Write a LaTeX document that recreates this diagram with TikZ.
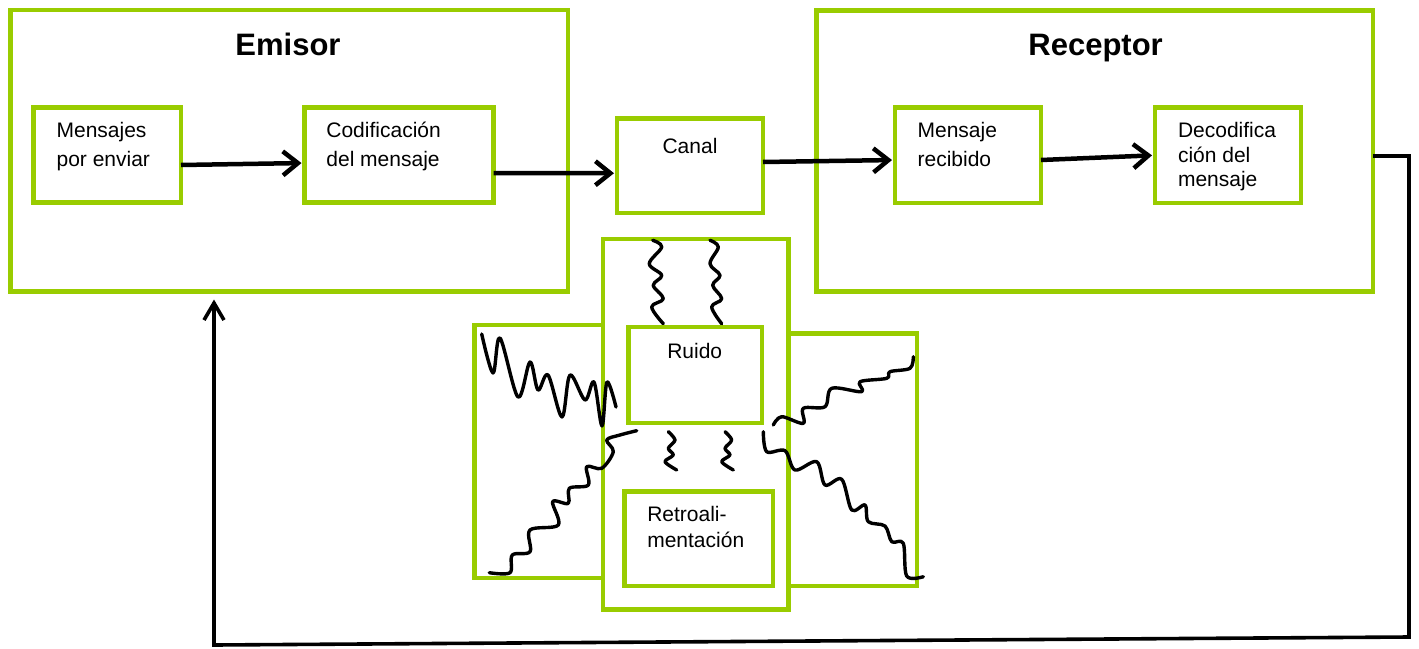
\documentclass[tikz,border=0pt]{standalone}
\usepackage{fontspec}
\setmainfont{Liberation Sans}
\usetikzlibrary{arrows.meta}
\definecolor{lgreen}{RGB}{153,204,0}
\begin{document}
\begin{tikzpicture}[x=1pt,y=-1pt,
  box/.style={draw=lgreen, line width=4.8pt, fill=white, inner sep=0pt, outer sep=0pt, line join=miter},
  sz/.style n args={2}{minimum width=#1pt, minimum height=#2pt},
  txt/.style={inner sep=0pt, outer sep=0pt, align=left, font=\fontsize{21}{29}\selectfont},
  ttl/.style={inner sep=0pt, outer sep=0pt, font=\fontsize{31}{37}\selectfont\bfseries},
  arr/.style={line width=4.5pt, -{Straight Barb[length=15pt,width=24pt]}, shorten >=3pt},
  fb/.style={line width=3.6pt, -{Straight Barb[length=17pt,width=20pt]}},
  sq/.style={line width=3.4pt, line cap=round, line join=round}]
\useasboundingbox (0,0) rectangle (1419,648);
% large boxes
\node[box, sz={557.5}{281.5}] (emi) at (289.25,150.75) {};
\node[box, sz={556.5}{281}] (rec) at (1094.75,151) {};
% inner boxes
\node[box, sz={147.5}{95}] (men) at (107.25,155) {};
\node[box, sz={189}{95}] (cod) at (399,155) {};
\node[box, sz={146}{94.5}] (can) at (690,165.75) {};
\node[box, sz={146}{95.5}] (mre) at (968,155.25) {};
\node[box, sz={146}{95.5}] (dec) at (1228,155.25) {};
% middle group
\node[box, sz={128.3}{253}] (lft) at (538.85,451.5) {};
\node[box, sz={128.3}{252.7}] (rgt) at (852.85,459.65) {};
\node[box, sz={185.7}{370.7}] (mid) at (695.85,424.35) {};
\node[box, sz={133.3}{96}] (rui) at (695.35,375) {};
\node[box, sz={148.3}{94.7}] (ret) at (698.85,538.65) {};
% texts (multi-line nodes: base = last line)
\node[ttl, anchor=base] (temi) at (288,55) {Emisor};
\node[ttl, anchor=base] (trec) at (1095.6,55) {Receptor};
\node[txt, anchor=base west] (tmen) at (56.6,166.7) {Mensajes\\por enviar};
\node[txt, anchor=base west] (tcod) at (326.4,166.7) {Codificación\\del mensaje};
\node[txt, anchor=base] (tcan) at (690,153.3) {Canal};
\node[txt, anchor=base west] (tmre) at (917.6,166.7) {Mensaje\\recibido};
\node[txt, anchor=base west, font=\fontsize{21}{24.5}\selectfont] (tdec) at (1178,186.7) {Decodifica\\ción del\\mensaje};
\node[txt, anchor=base] (trui) at (694.7,358.3) {Ruido};
\node[txt, anchor=base west, font=\fontsize{21}{25.6}\selectfont] (tret) at (647.3,547.3) {Retroali-\\mentación};
% arrows
\draw[arr] ([yshift=-10pt]men.east) -- ([yshift=-8pt]cod.west);
\draw[arr] ([yshift=-18pt]cod.east) -- ([yshift=-7.5pt]can.west);
\draw[arr] ([yshift=3.75pt]can.east) -- ([yshift=-4.75pt]mre.west);
\draw[arr] ([yshift=-4.75pt]mre.east) -- (dec.west);
% feedback
\coordinate (fb1) at (1409,156);
\coordinate (fb2) at (1409,637);
\coordinate (fb3) at (214,645);
\draw[fb, shorten >=8pt] ([yshift=-5pt]rec.east) -- (fb1) -- (fb2) -- (fb3) -- (fb3 |- emi.south);
% squiggles
\draw[sq] plot[smooth, tension=0.55] coordinates {(481.7,334) (493,373) (500,338) (518,397) (530,362) (538,390) (548,375) (562,417) (570,375) (585,400) (594,382) (602,426) (607,382) (616,407)};
\draw[sq] plot[smooth, tension=0.55] coordinates {(489.3,572.7) (510,572.7) (512.3,555) (530,551.7) (530,530) (558.3,525) (552.7,501.7) (568.3,503.3) (569.3,488.3) (588.3,485) (586.7,466.7) (601.7,468.3) (613.3,451.7) (606.7,440) (620,435) (636.7,430.7)};
\draw[sq] plot[smooth, tension=0.55] coordinates {(773.3,425) (781.7,416.7) (803.3,423.3) (803.3,408.3) (825,406.7) (831.7,388.3) (861.7,391.7) (860,381.7) (886.7,378.3) (890,371.7) (910,368.3) (913.3,356.7)};
\draw[sq] plot[smooth, tension=0.55] coordinates {(763.3,431.7) (766.7,451.7) (785,450.7) (795,470) (816.7,461.7) (825,485) (841.7,479.3) (851.7,510) (865,505) (868.3,521.7) (885,526) (891.7,541.7) (903.3,543.3) (906.7,576) (923.3,576.7)};
\draw[sq] plot[smooth, tension=0.6] coordinates {(652.7,240.3) (661.7,247) (649.3,263.7) (661.7,275.3) (653.3,285.3) (663.3,298.7) (651.7,307) (663.3,323.7)};
\draw[sq] plot[smooth, tension=0.6] coordinates {(710,240.3) (718.3,247) (710,263.7) (720,275.3) (712.7,285.3) (721.7,298.7) (711.7,307) (721.7,323.7)};
\draw[sq] plot[smooth, tension=0.5] coordinates {(668.3,431.7) (675,440) (668.3,448.3) (673.3,455) (665,461.7) (676.7,470)};
\draw[sq] plot[smooth, tension=0.5] coordinates {(725,431.7) (731.7,440) (725,448.3) (730,455) (721.7,461.7) (733.3,470)};
\end{tikzpicture}
\end{document}
